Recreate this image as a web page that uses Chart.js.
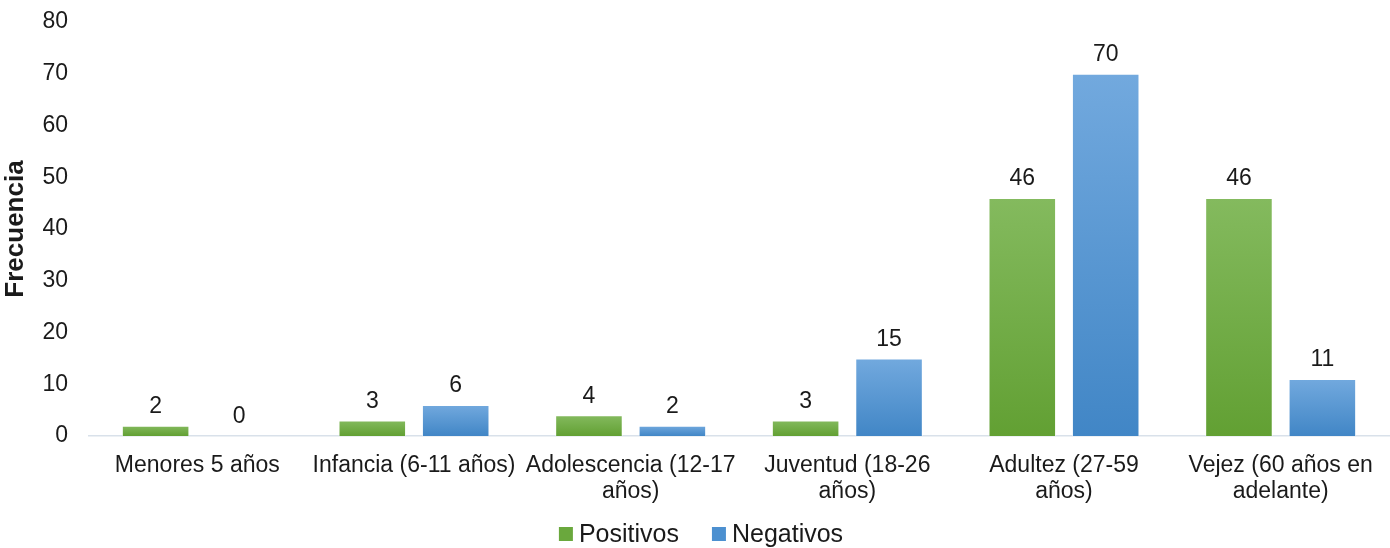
<!DOCTYPE html>
<html>
<head>
<meta charset="utf-8">
<script src="https://cdn.jsdelivr.net/npm/chart.js@4"></script>
<style>
  html, body { margin: 0; padding: 0; background: #fff; }
  #wrap { width: 1390px; height: 548px; position: relative; }
</style>
</head>
<body>
<div id="wrap"><canvas id="chart"></canvas></div>
<script>
// ── DATA ─────────────────────────────────────────────────────────────────────
const categories = [
  ['Menores 5 años'],
  ['Infancia (6-11 años)'],
  ['Adolescencia (12-17', 'años)'],
  ['Juventud (18-26', 'años)'],
  ['Adultez (27-59', 'años)'],
  ['Vejez (60 años en', 'adelante)'],
];
const positivos = [2, 3, 4, 3, 46, 46];
const negativos = [0, 6, 2, 15, 70, 11];
const yTicks = [0, 10, 20, 30, 40, 50, 60, 70, 80];

const FONT = '"Liberation Sans", Arial, sans-serif';
const INK = '#1a1a1a';
const LEGEND_FILLS = ['#6aa83d', '#4c90d0'];

// ── HELPERS ──────────────────────────────────────────────────────────────────
function barGradient(top, bottom) {
  return (ctx) => {
    const chart = ctx.chart;
    const y = chart.scales && chart.scales.y;
    if (!chart.chartArea || !y || ctx.raw == null) return bottom;
    const y0 = y.getPixelForValue(ctx.raw);
    const y1 = y.getPixelForValue(0);
    if (Math.abs(y1 - y0) < 1) return bottom;
    const g = chart.ctx.createLinearGradient(0, y0, 0, y1);
    g.addColorStop(0, top);
    g.addColorStop(1, bottom);
    return g;
  };
}

// value labels above each bar
const valueLabels = {
  id: 'valueLabels',
  afterDatasetsDraw(chart) {
    const { ctx } = chart;
    ctx.save();
    ctx.font = '23px ' + FONT;
    ctx.fillStyle = INK;
    ctx.textAlign = 'center';
    ctx.textBaseline = 'middle';
    chart.data.datasets.forEach((ds, i) => {
      chart.getDatasetMeta(i).data.forEach((bar, j) => {
        ctx.fillText(String(ds.data[j]), bar.x, bar.y - 19);
      });
    });
    ctx.restore();
  },
};

// bottom legend, Excel style (square + label)
const bottomLegend = {
  id: 'bottomLegend',
  afterDraw(chart) {
    const { ctx } = chart;
    const box = 14, gapText = 6, gapItem = 33;
    ctx.save();
    ctx.font = '25px ' + FONT;
    const items = chart.data.datasets.map((ds, i) => ({
      text: ds.label, fill: LEGEND_FILLS[i], w: ctx.measureText(ds.label).width,
    }));
    const total = items.reduce((s, it) => s + box + gapText + it.w, 0) + gapItem * (items.length - 1);
    let x = chart.width / 2 + 6 - total / 2;
    const cy = chart.height - 14;
    ctx.textBaseline = 'middle';
    ctx.textAlign = 'left';
    items.forEach(it => {
      ctx.fillStyle = it.fill;
      ctx.fillRect(x, cy - box / 2, box, box);
      x += box + gapText;
      ctx.fillStyle = INK;
      ctx.fillText(it.text, x, cy + 1);
      x += it.w + gapItem;
    });
    ctx.restore();
  },
};

// ── CHART ────────────────────────────────────────────────────────────────────
new Chart(document.getElementById('chart'), {
  type: 'bar',
  data: {
    labels: categories,
    datasets: [
      {
        label: 'Positivos',
        data: positivos,
        backgroundColor: barGradient('#84ba5e', '#62a033'),
        borderColor: 'rgba(255,255,255,0.55)',
        borderWidth: 1,
        categoryPercentage: 0.77,
        barPercentage: 0.81,
      },
      {
        label: 'Negativos',
        data: negativos,
        backgroundColor: barGradient('#72a9de', '#4186c6'),
        borderColor: 'rgba(255,255,255,0.55)',
        borderWidth: 1,
        categoryPercentage: 0.77,
        barPercentage: 0.81,
      },
    ],
  },
  options: {
    responsive: true, maintainAspectRatio: false,
    animation: false,
    layout: { padding: { top: 22, right: 1, left: 0, bottom: 0 } },
    plugins: {
      legend: { display: false },
      tooltip: { enabled: false },
    },
    scales: {
      x: {
        afterFit(axis) { axis.height = 112; axis.paddingBottom = 0; },
        grid: { display: false, drawTicks: false },
        border: { color: '#d9e1ea', width: 1.5 },
        ticks: {
          font: { family: FONT, size: 23, lineHeight: 1.13 },
          color: INK,
          maxRotation: 0, autoSkip: false,
          padding: 17,
        },
      },
      y: {
        min: 0, max: 80,
        afterBuildTicks(axis) { axis.ticks = yTicks.map(v => ({ value: v })); },
        afterFit(axis) { axis.width = 89; axis.paddingTop = 0; axis.paddingBottom = 0; },
        grid: { display: false, drawTicks: false },
        border: { display: false },
        ticks: {
          font: { family: FONT, size: 23 },
          color: INK,
          padding: 21,
        },
        title: {
          display: true,
          text: 'Frecuencia',
          font: { family: FONT, size: 26, weight: 'bold' },
          color: INK,
          padding: { top: 0, bottom: 0 },
        },
      },
    },
  },
  plugins: [valueLabels, bottomLegend],
});
</script>
</body>
</html>
